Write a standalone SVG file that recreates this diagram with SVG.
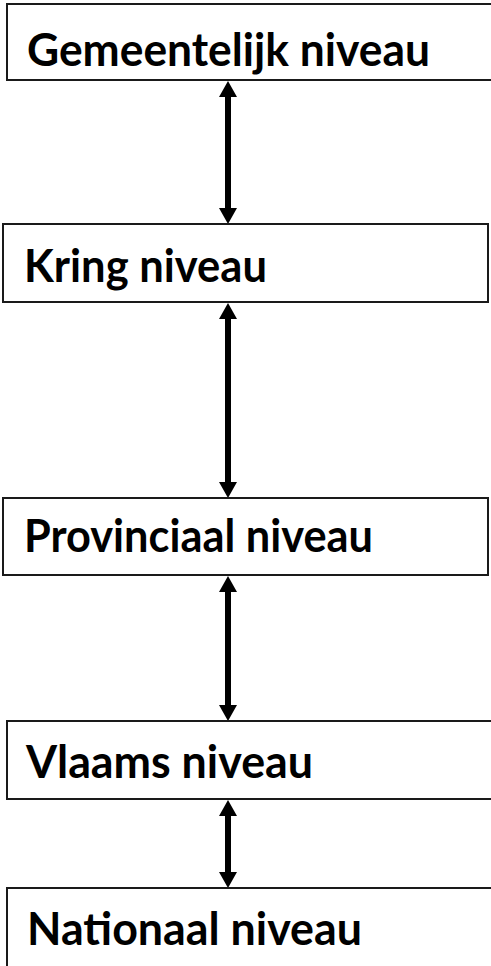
<svg xmlns="http://www.w3.org/2000/svg" width="491" height="966" viewBox="0 0 491 966">
  <style>
    .box { fill: #ffffff; stroke: #1a1a1a; stroke-width: 2; }
    .lbl { font-family: Lato, "Open Sans", "Liberation Sans", sans-serif; font-weight: bold; font-size: 45px; fill: #000000; }
    .conn { stroke: #000000; stroke-width: 6; fill: none; marker-start: url(#head); marker-end: url(#head); }
  </style>
  <defs>
    <marker id="head" viewBox="0 -9 16 18" refX="0" refY="0" markerWidth="16" markerHeight="18" markerUnits="userSpaceOnUse" orient="auto-start-reverse">
      <path d="M0,-9 L16,0 L0,9 z" fill="#000000"/>
    </marker>
  </defs>
  <rect x="0" y="0" width="491" height="966" fill="#ffffff"/>

  <g id="connectors">
    <line class="conn" x1="228" y1="97" x2="228" y2="208"/>
    <line class="conn" x1="228" y1="319" x2="228" y2="482"/>
    <line class="conn" x1="228" y1="592" x2="228" y2="705"/>
    <line class="conn" x1="228" y1="816" x2="228" y2="872"/>
  </g>

  <g id="gemeentelijk">
    <rect class="box" x="7" y="4" width="500" height="76"/>
    <text class="lbl" x="27" y="66" textLength="403" lengthAdjust="spacingAndGlyphs">Gemeentelijk niveau</text>
  </g>
  <g id="kring">
    <rect class="box" x="3" y="224" width="485" height="78"/>
    <text class="lbl" x="24" y="282" textLength="243" lengthAdjust="spacingAndGlyphs">Kring niveau</text>
  </g>
  <g id="provinciaal">
    <rect class="box" x="3" y="498" width="485" height="77"/>
    <text class="lbl" x="24" y="552" textLength="349" lengthAdjust="spacingAndGlyphs">Provinciaal niveau</text>
  </g>
  <g id="vlaams">
    <rect class="box" x="7" y="721" width="500" height="78"/>
    <text class="lbl" x="26" y="778" textLength="287" lengthAdjust="spacingAndGlyphs">Vlaams niveau</text>
  </g>
  <g id="nationaal">
    <rect class="box" x="7" y="888" width="500" height="90"/>
    <text class="lbl" x="27" y="945" textLength="335" lengthAdjust="spacingAndGlyphs">Nationaal niveau</text>
  </g>
</svg>
